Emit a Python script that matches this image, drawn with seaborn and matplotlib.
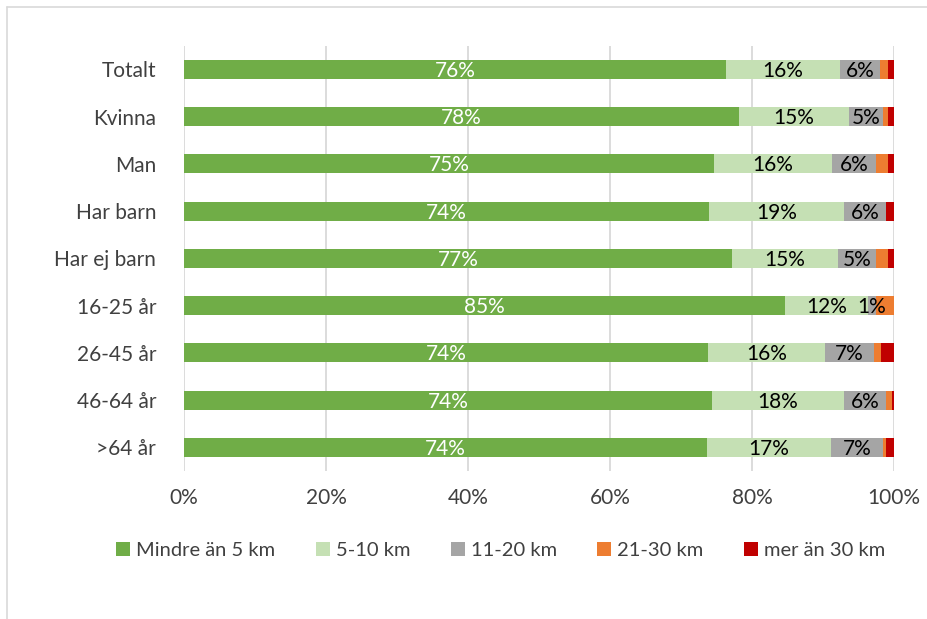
import numpy as np
import pandas as pd
import matplotlib
matplotlib.use("Agg")
import matplotlib.pyplot as plt
from matplotlib.lines import Line2D
from matplotlib.patches import Patch
import seaborn as sns

categories = ["Totalt", "Kvinna", "Man", "Har barn", "Har ej barn",
              "16-25 år", "26-45 år", "46-64 år", ">64 år"]
series = ["Mindre än 5 km", "5-10 km", "11-20 km", "21-30 km", "mer än 30 km"]

under5 = [76.3, 78.0, 74.7, 74.0, 77.2, 84.6, 73.8, 74.4, 73.7]
km5_10 = [16.1, 15.4, 16.5, 18.9, 14.9, 11.7, 16.4, 18.5, 17.4]
km11_20 = [5.6, 4.9, 6.3, 6.0, 5.4, 1.2, 7.0, 6.0, 7.4]
km21_30 = [1.1, 0.6, 1.7, 0.0, 1.7, 2.5, 0.9, 0.8, 0.4]
over30 = [0.9, 0.9, 0.8, 1.1, 0.8, 0.0, 1.9, 0.3, 1.1]

colors = ["#70AD47", "#C5E0B4", "#A5A5A5", "#ED7D31", "#C00000"]
label_colors = ["white", "black", "black", None, None]

sns.set_style("white")
plt.rcParams["font.family"] = ["Lato", "DejaVu Sans"]

df = pd.DataFrame({"cat": categories, series[0]: under5, series[1]: km5_10,
                   series[2]: km11_20, series[3]: km21_30, series[4]: over30})
vals = df[series].to_numpy()
cum = vals.cumsum(axis=1)
# normalise so each bar ends at 100 %
cum = cum / cum[:, -1:] * 100

fig = plt.figure(figsize=(9.27, 6.19), dpi=100)
ax = fig.add_axes([0.1985, 0.239, 0.766, 0.687])

# stacked bars: draw cumulative totals from right to left
for i in range(len(series) - 1, -1, -1):
    sns.barplot(x=cum[:, i], y=categories, orient="h", color=colors[i],
                width=0.4, saturation=1, ax=ax, linewidth=0, zorder=2)

# value labels
for i in range(3):
    for j, cat in enumerate(categories):
        start = cum[j, i - 1] if i > 0 else 0
        mid = (start + cum[j, i]) / 2
        ax.text(mid, j + 0.03, f"{vals[j, i]:.0f}%", ha="center", va="center",
                color=label_colors[i], fontsize=15, zorder=3)

ax.set_xlim(0, 100)
ax.set_ylim(8.5, -0.5)
ax.set_xticks(np.arange(0, 101, 20))
ax.set_xticklabels([f"{t}%" for t in range(0, 101, 20)])
ax.xaxis.grid(True, color="#D9D9D9", linewidth=1.3, zorder=0)
ax.set_axisbelow(True)
for s in ax.spines.values():
    s.set_visible(False)
ax.tick_params(axis="both", length=0, labelsize=15, colors="#404040")
ax.tick_params(axis="x", pad=12)
ax.tick_params(axis="y", pad=20)
ax.set_xlabel("")
ax.set_ylabel("")

handles = [Patch(facecolor=c, edgecolor="none") for c in colors]
fig.legend(handles, series, loc="center", bbox_to_anchor=(0.54, 0.11),
           ncol=5, frameon=False, fontsize=14.5, handlelength=0.7,
           handleheight=0.7, handletextpad=0.3, columnspacing=2.0,
           labelcolor="#404040")

# chart frame
fig.add_artist(Line2D([0.008, 1.0], [0.988, 0.988], color="#D9D9D9", lw=1.2))
fig.add_artist(Line2D([0.008, 0.008], [0.0, 0.988], color="#D9D9D9", lw=1.2))

fig.savefig("out.png", dpi=100)
